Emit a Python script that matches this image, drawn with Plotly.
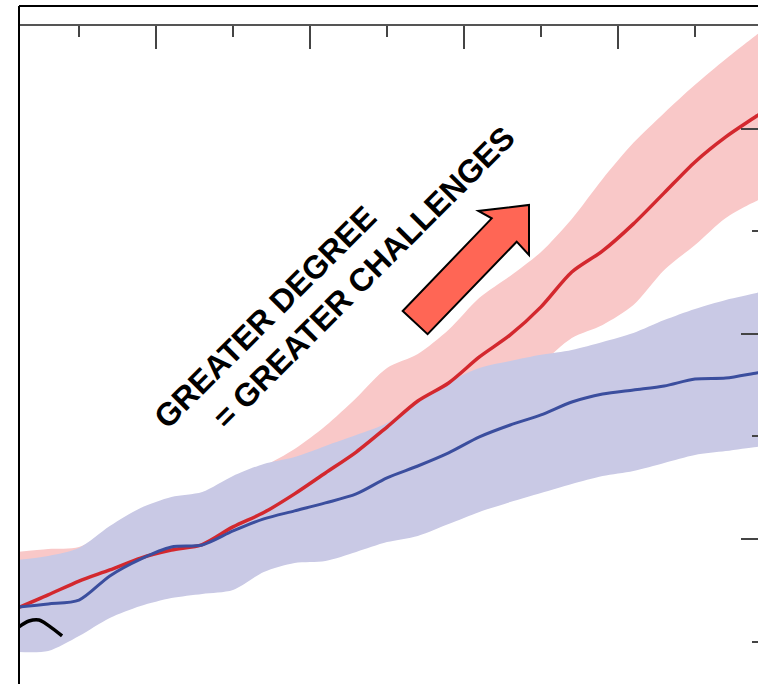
import plotly.graph_objects as go

# ---- data (years, temperature-like values) ----
years = [2002, 2006, 2010, 2014, 2018, 2022, 2026, 2030, 2034, 2038, 2042, 2046, 2050,
         2054, 2058, 2062, 2066, 2070, 2074, 2078, 2082, 2086, 2090, 2094, 2098, 2099]

red_mean = [0.663, 0.727, 0.795, 0.849, 0.907, 0.946, 0.973, 1.059, 1.129, 1.220, 1.322, 1.424, 1.546,
            1.673, 1.761, 1.888, 1.995, 2.132, 2.302, 2.405, 2.537, 2.688, 2.839, 2.961, 3.063, 3.090]
red_hi = [0.937, 0.951, 0.961, 1.044, 1.132, 1.190, 1.220, 1.298, 1.356, 1.439, 1.551, 1.688, 1.834,
          1.902, 2.020, 2.176, 2.283, 2.400, 2.561, 2.756, 2.932, 3.078, 3.215, 3.341, 3.459, 3.490]
red_lo = [0.507, 0.556, 0.605, 0.654, 0.702, 0.751, 0.800, 0.849, 0.922, 0.995, 1.044, 1.117, 1.190,
          1.288, 1.385, 1.532, 1.678, 1.849, 1.980, 2.044, 2.141, 2.312, 2.434, 2.566, 2.649, 2.660]

blue_mean = [0.668, 0.683, 0.702, 0.820, 0.902, 0.961, 0.971, 1.039, 1.098, 1.137, 1.176, 1.220, 1.298,
             1.356, 1.420, 1.498, 1.556, 1.605, 1.668, 1.707, 1.727, 1.746, 1.780, 1.785, 1.810, 1.815]
blue_hi = [0.898, 0.917, 0.956, 1.063, 1.151, 1.205, 1.229, 1.307, 1.366, 1.400, 1.454, 1.507, 1.566,
           1.673, 1.766, 1.834, 1.868, 1.898, 1.922, 1.961, 2.005, 2.068, 2.122, 2.166, 2.200, 2.210]
blue_lo = [0.449, 0.454, 0.527, 0.615, 0.673, 0.712, 0.732, 0.751, 0.839, 0.883, 0.893, 0.937, 0.985,
           1.015, 1.073, 1.132, 1.180, 1.224, 1.268, 1.307, 1.332, 1.371, 1.410, 1.429, 1.449, 1.452]

hist_years = [2001.0, 2002.2, 2003.5, 2004.8, 2006.1, 2007.8]
hist_vals = [0.530, 0.571, 0.600, 0.605, 0.576, 0.527]

line1 = "GREATER DEGREE"
line2 = "= GREATER CHALLENGES"

# ---- colours ----
PINK = "#F9C8C8"
LAV = "#C9C9E5"
RED = "#D3282E"
BLUE = "#3B4E9E"

fig = go.Figure()

def band(lo, hi, color):
    fig.add_trace(go.Scatter(x=years, y=lo, mode="lines", line=dict(width=0, shape="spline", smoothing=0.8),
                             hoverinfo="skip", showlegend=False))
    fig.add_trace(go.Scatter(x=years, y=hi, mode="lines", line=dict(width=0, shape="spline", smoothing=0.8),
                             fill="tonexty", fillcolor=color, hoverinfo="skip", showlegend=False))

band(red_lo, red_hi, PINK)
band(blue_lo, blue_hi, LAV)

fig.add_trace(go.Scatter(x=years, y=red_mean, mode="lines",
                         line=dict(color=RED, width=3.5, shape="spline", smoothing=0.8), showlegend=False))
fig.add_trace(go.Scatter(x=years, y=blue_mean, mode="lines",
                         line=dict(color=BLUE, width=3, shape="spline", smoothing=0.8), showlegend=False))
fig.add_trace(go.Scatter(x=hist_years, y=hist_vals, mode="lines",
                         line=dict(color="black", width=3.5, shape="spline"), showlegend=False))

# arrow (annotation decoration, in data coordinates)
arrow_x = [2052.04, 2055.27, 2066.84, 2068.44, 2068.44, 2061.86, 2063.60]
arrow_y = [2.112, 1.999, 2.450, 2.385, 2.629, 2.600, 2.564]
path = "M " + " L ".join(f"{a},{b}" for a, b in zip(arrow_x, arrow_y)) + " Z"
fig.add_shape(type="path", path=path, xref="x", yref="y",
              fillcolor="#FF6655", line=dict(color="black", width=2))

# outer frame (top and left)
fig.add_shape(type="line", xref="paper", yref="paper", x0=0, x1=1.01, y0=1.0304, y1=1.0304,
              line=dict(color="black", width=2))
fig.add_shape(type="line", xref="paper", yref="paper", x0=0, x1=0, y0=-0.01, y1=1.0304,
              line=dict(color="black", width=2))

txtfont = dict(family="Liberation Sans, Arial, sans-serif", size=32, color="black")
fig.add_annotation(x=2034.16, y=2.083, xref="x", yref="y", text="<b>" + line1 + "</b>",
                   textangle=-45, showarrow=False, font=txtfont, xanchor="center", yanchor="middle")
fig.add_annotation(x=2047.01, y=2.278, xref="x", yref="y", text="<b>" + line2 + "</b>",
                   textangle=-45, showarrow=False, font=txtfont, xanchor="center", yanchor="middle")

TICKC = "#444444"
fig.update_xaxes(range=[2002.208, 2098.18], side="top", showline=True, linecolor="#555555", linewidth=2,
                 showgrid=False, zeroline=False, showticklabels=False,
                 ticks="inside", tick0=2000, dtick=20, ticklen=23, tickwidth=2, tickcolor=TICKC,
                 minor=dict(ticks="inside", tick0=2000, dtick=10, ticklen=11, tickwidth=2,
                            tickcolor=TICKC, showgrid=False))
fig.update_yaxes(range=[0.2927, 3.502], side="right", showline=False, showgrid=False, zeroline=False,
                 showticklabels=False,
                 ticks="inside", tick0=0, dtick=1, ticklen=17, tickwidth=2, tickcolor=TICKC,
                 minor=dict(ticks="inside", tick0=0, dtick=0.5, ticklen=6, tickwidth=2,
                            tickcolor=TICKC, showgrid=False))

fig.update_layout(width=758, height=684, margin=dict(l=19, r=0, t=26, b=0),
                  paper_bgcolor="white", plot_bgcolor="white", showlegend=False)

fig.write_html("out.html", config={"displayModeBar": False},
               post_script="document.body.style.margin='0';document.body.style.overflow='hidden';")
